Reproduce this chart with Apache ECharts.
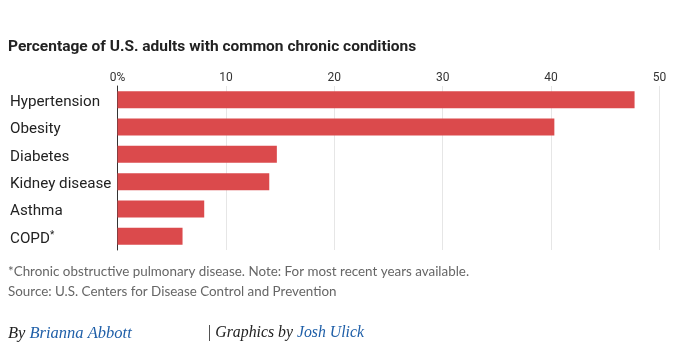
<!DOCTYPE html>
<html><head><meta charset="utf-8">
<script src="https://cdn.jsdelivr.net/npm/echarts@6/dist/echarts.min.js"></script>
<style>html,body{margin:0;padding:0;background:#fff}#c{width:700px;height:349px}</style>
</head><body><div id="c"></div>
<script>
const categories = ['Hypertension','Obesity','Diabetes','Kidney disease','Asthma','COPD*'];
const values = [47.7, 40.3, 14.7, 14.0, 8.0, 6.0];
const tickValues = [0,10,20,30,40,50];
const tickLabels = ['0%','10','20','30','40','50'];

const chart = echarts.init(document.getElementById('c'), null, {renderer:'canvas'});
chart.setOption({
  animation:false,
  backgroundColor:'#fff',
  grid:{left:117.5, right:40.5, top:86, height:164, containLabel:false},
  xAxis:{type:'value', position:'top', min:0, max:50, interval:10,
    axisLine:{show:false}, axisTick:{show:false},
    splitLine:{show:true, lineStyle:{color:'#e6e6e6', width:1}},
    axisLabel:{margin:2, color:'#333', fontFamily:'Roboto', fontSize:12,
      formatter:(v)=>tickLabels[tickValues.indexOf(v)]}
  },
  yAxis:{type:'category', inverse:true, data:categories,
    axisLine:{show:true, lineStyle:{color:'#333', width:1}}, axisTick:{show:false},
    axisLabel:{align:'left', margin:107.5, color:'#222', fontFamily:'Roboto', fontSize:15.2,
      padding:[5,0,0,0],
      formatter:(v)=> v.endsWith('*') ? '{n|'+v.slice(0,-1)+'}{s|*}' : v,
      rich:{n:{fontFamily:'Roboto', fontSize:15.2, color:'#222'},
            s:{fontFamily:'Roboto', fontSize:10, color:'#222', verticalAlign:'top', padding:[0,0,6,0]}}}
  },
  series:[{type:'bar', data:values, barCategoryGap:'38%', itemStyle:{color:'#db4a4c'}, silent:true}],
  graphic:[
    {type:'text', left:8, top:39, style:{text:'Percentage of U.S. adults with common chronic conditions', fontFamily:'Roboto', fontWeight:'bold', fontSize:15.5, fill:'#222'}},
    {type:'text', left:8, top:265, style:{text:'*Chronic obstructive pulmonary disease. Note: For most recent years available.', fontFamily:'Lato', fontSize:13.4, fill:'#666'}},
    {type:'text', left:8, top:285, style:{text:'Source: U.S. Centers for Disease Control and Prevention', fontFamily:'Lato', fontSize:13.4, fill:'#666'}},
    {type:'text', left:8, top:325, style:{text:'{a|By }{b|Brianna Abbott}', rich:{
      a:{fontFamily:'Liberation Serif', fontStyle:'italic', fontSize:16.5, fill:'#222'},
      b:{fontFamily:'Liberation Serif', fontStyle:'italic', fontSize:16.5, fill:'#1f5fa8'}}}},
    {type:'text', left:207, top:325, style:{text:'{a|| Graphics by }{b|Josh Ulick}', rich:{
      a:{fontFamily:'Liberation Serif', fontStyle:'italic', fontSize:15.8, fill:'#222'},
      b:{fontFamily:'Liberation Serif', fontStyle:'italic', fontSize:15.8, fill:'#1f5fa8'}}}}
  ]
});
</script></body></html>
